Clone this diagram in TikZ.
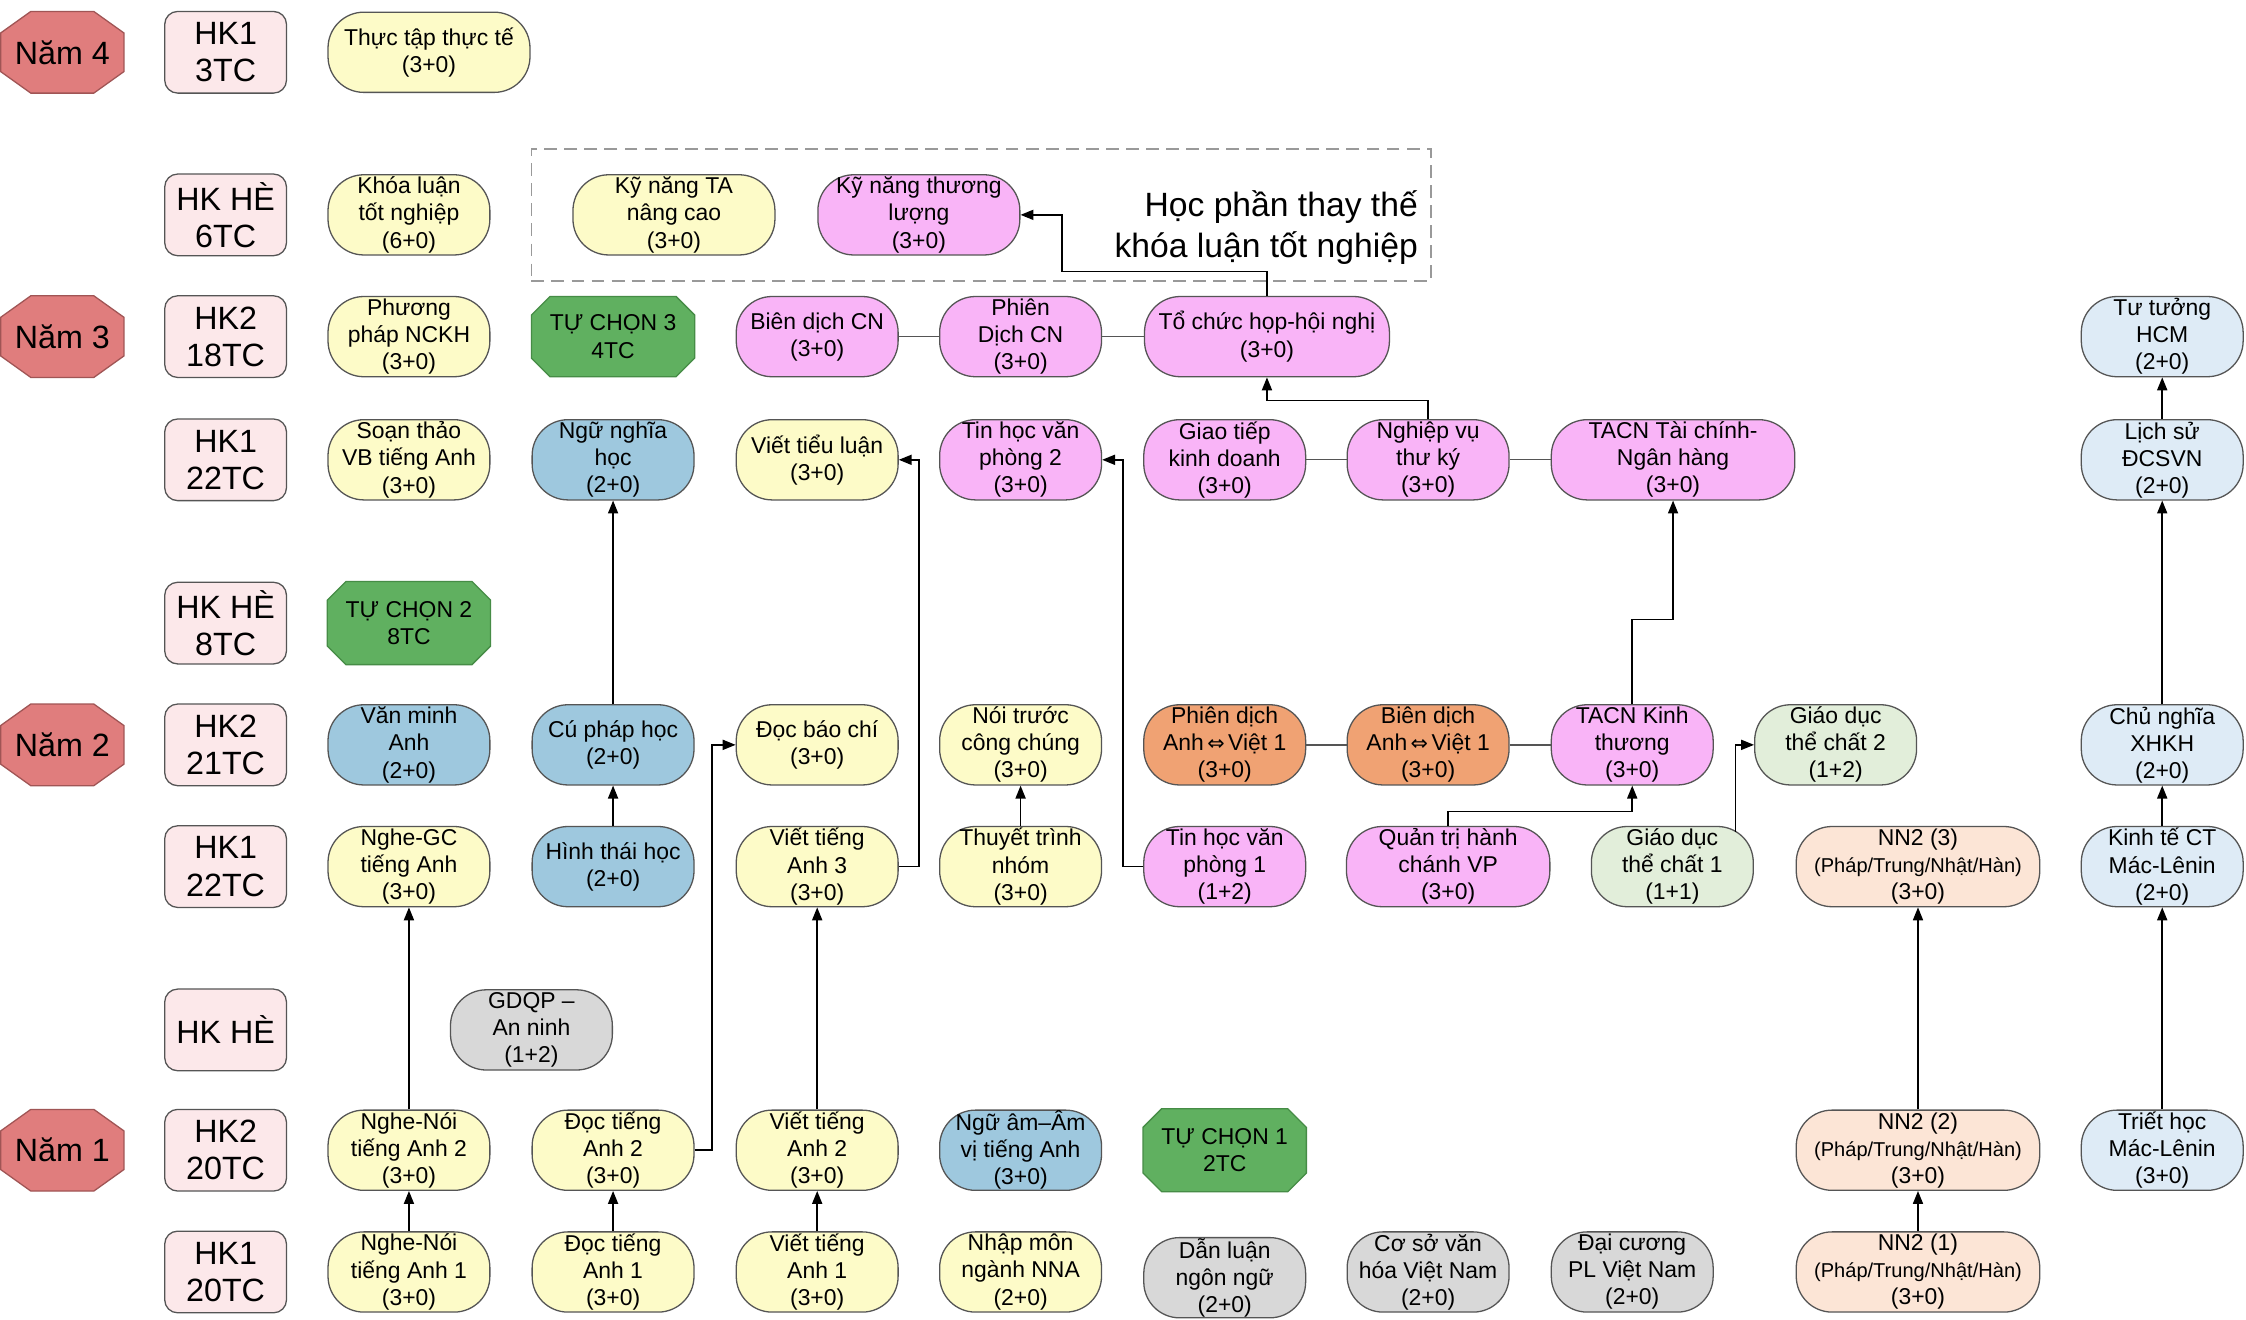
\documentclass[tikz,border=0pt]{standalone}
\usepackage{fontspec}
\setmainfont{Liberation Sans}
\newfontfamily\symf{DejaVu Sans}
\usetikzlibrary{arrows.meta,calc}
\newcommand\cf{\fontsize{16}{18.9}\selectfont}
\newcommand\hkf{\fontsize{22.5}{26}\selectfont}
\newcommand\titlef{\fontsize{23.5}{29}\selectfont}
\newcommand\smf{\fontsize{14}{17}\selectfont}
\newcommand\dar{{\symf\fontsize{14.5}{16}\selectfont\,⇔\,}}
\definecolor{cyel}{RGB}{253,251,200}
\definecolor{cblue}{RGB}{158,200,222}
\definecolor{cpink}{RGB}{249,180,247}
\definecolor{corange}{RGB}{240,162,115}
\definecolor{cgreen}{RGB}{96,176,96}
\definecolor{cgreenb}{RGB}{70,140,70}
\definecolor{cgray}{RGB}{216,216,216}
\definecolor{clgreen}{RGB}{226,238,218}
\definecolor{cpeach}{RGB}{252,229,214}
\definecolor{clblue}{RGB}{222,235,246}
\definecolor{cred}{RGB}{224,125,125}
\definecolor{credb}{RGB}{160,85,85}
\definecolor{chk}{RGB}{252,232,234}
\definecolor{cline}{RGB}{85,85,85}
\newcommand\octnode[9]{%
  \filldraw[#8] ({#2-#4},{#3-#5+#7}) -- ({#2-#4+#6},{#3-#5}) -- ({#2+#4-#6},{#3-#5}) -- ({#2+#4},{#3-#5+#7}) -- ({#2+#4},{#3+#5-#7}) -- ({#2+#4-#6},{#3+#5}) -- ({#2-#4+#6},{#3+#5}) -- ({#2-#4},{#3+#5-#7}) -- cycle;
  \node[octtext, #8text, minimum width={2*#4*1pt}, minimum height={2*#5*1pt}] (#1) at (#2,#3) {#9};
}
\tikzset{
  base/.style={draw=cline, line width=0.9pt, align=center, inner sep=0pt, font=\cf},
  course/.style={base, rounded corners=25pt, minimum width=113pt, minimum height=56pt},
  yel/.style={course, fill=cyel},
  blu/.style={course, fill=cblue},
  pnk/.style={course, fill=cpink},
  org/.style={course, fill=corange},
  gry/.style={course, fill=cgray},
  lgr/.style={course, fill=clgreen},
  pch/.style={course, fill=cpeach},
  lbl/.style={course, fill=clblue},
  hkbox/.style={base, fill=chk, rounded corners=9pt, minimum width=85pt, minimum height=57pt, font=\hkf},
  octtext/.style={align=center, inner sep=0pt},
  yearoct/.style={fill=cred, draw=credb, line width=0.9pt},
  yearocttext/.style={font=\hkf},
  greenoct/.style={fill=cgreen, draw=cgreenb, line width=0.9pt},
  greenocttext/.style={font=\cf},
  arr/.style={-{Triangle[length=9pt,width=7pt]}, line width=1.1pt, black},
  plain/.style={line width=0.9pt, cline},
}
\begin{document}
\begin{tikzpicture}[x=1pt,y=-1pt]
\useasboundingbox (0,0) rectangle (1568,921);
\fill[white] (0,0) rectangle (1568,921);
% group box
\node[draw=gray!80, dashed, dash pattern=on 9pt off 5pt, line width=1.2pt, minimum width=628pt, minimum height=92pt, inner sep=0pt] (grp) at (685,150) {};
\node[anchor=east, align=right, font=\titlef, inner sep=0pt] (grptitle) at (990,159) {Học phần thay thế\\khóa luận tốt nghiệp};
% years
\octnode{n4}{43.5}{36.5}{43}{28.5}{21}{15}{yearoct}{Năm 4}
\octnode{n3}{43.5}{235}{43}{28.5}{21}{15}{yearoct}{Năm 3}
\octnode{n2}{43.5}{520}{43}{28.5}{21}{15}{yearoct}{Năm 2}
\octnode{n1}{43.5}{803}{43}{28.5}{21}{15}{yearoct}{Năm 1}
% semesters
\node[hkbox] (s10) at (157.5,36.5) {HK1\\3TC};
\node[hkbox] (s9) at (157.5,150) {HK HÈ\\6TC};
\node[hkbox] (s8) at (157.5,235) {HK2\\18TC};
\node[hkbox] (s7) at (157.5,321) {HK1\\22TC};
\node[hkbox] (s6) at (157.5,435) {HK HÈ\\8TC};
\node[hkbox] (s5) at (157.5,520) {HK2\\21TC};
\node[hkbox] (s4) at (157.5,605) {HK1\\22TC};
\node[hkbox] (s3) at (157.5,719) {HK HÈ};
\node[hkbox] (s2) at (157.5,803) {HK2\\20TC};
\node[hkbox] (s1) at (157.5,888) {HK1\\20TC};
% column 3
\node[yel, minimum width=141pt] (tt) at (299.5,36.5) {Thực tập thực tế\\(3+0)};
\node[yel] (kl) at (285.5,150) {Khóa luận\\tốt nghiệp\\(6+0)};
\node[yel] (pp) at (285.5,235) {Phương\\pháp NCKH\\(3+0)};
\node[yel] (st) at (285.5,321) {Soạn thảo\\VB tiếng Anh\\(3+0)};
\octnode{tc2}{285.5}{435}{57}{29}{13}{13}{greenoct}{TỰ CHỌN 2\\8TC}
\node[blu] (vm) at (285.5,520) {Văn minh\\Anh\\(2+0)};
\node[yel] (ngc) at (285.5,605) {Nghe-GC\\tiếng Anh\\(3+0)};
\node[yel] (nn2) at (285.5,803) {Nghe-Nói\\tiếng Anh 2\\(3+0)};
\node[yel] (nn1) at (285.5,888) {Nghe-Nói\\tiếng Anh 1\\(3+0)};
% column 4
\node[yel, minimum width=141pt] (kta) at (470.5,150) {Kỹ năng TA\\nâng cao\\(3+0)};
\octnode{tc3}{428}{235}{57}{28}{13}{13}{greenoct}{TỰ CHỌN 3\\4TC}
\node[blu] (nng) at (428,321) {Ngữ nghĩa\\học\\(2+0)};
\node[blu] (cph) at (428,520) {Cú pháp học\\(2+0)};
\node[blu] (htt) at (428,605) {Hình thái học\\(2+0)};
\node[gry] (gdqp) at (371,719) {GDQP –\\An ninh\\(1+2)};
\node[yel] (d2) at (428,803) {Đọc tiếng\\Anh 2\\(3+0)};
\node[yel] (d1) at (428,888) {Đọc tiếng\\Anh 1\\(3+0)};
% column 5
\node[pnk, minimum width=141pt] (kntl) at (641.5,150) {Kỹ năng thương\\lượng\\(3+0)};
\node[pnk] (bdcn) at (570.5,235) {Biên dịch CN\\(3+0)};
\node[yel] (vtl) at (570.5,321) {Viết tiểu luận\\(3+0)};
\node[yel] (dbc) at (570.5,520) {Đọc báo chí\\(3+0)};
\node[yel] (v3) at (570.5,605) {Viết tiếng\\Anh 3\\(3+0)};
\node[yel] (v2) at (570.5,803) {Viết tiếng\\Anh 2\\(3+0)};
\node[yel] (v1) at (570.5,888) {Viết tiếng\\Anh 1\\(3+0)};
% column 6
\node[pnk] (pdcn) at (712.5,235) {Phiên\\Dịch CN\\(3+0)};
\node[pnk] (th2) at (712.5,321) {Tin học văn\\phòng 2\\(3+0)};
\node[yel] (ntcc) at (712.5,520) {Nói trước\\công chúng\\(3+0)};
\node[yel] (ttn) at (712.5,605) {Thuyết trình\\nhóm\\(3+0)};
\node[blu] (nam) at (712.5,803) {Ngữ âm–Âm\\vị tiếng Anh\\(3+0)};
\node[yel] (nmn) at (712.5,888) {Nhập môn\\ngành NNA\\(2+0)};
% column 7
\node[pnk, minimum width=171pt] (toch) at (884.5,235) {Tổ chức họp-hội nghị\\(3+0)};
\node[pnk] (gtkd) at (855,321) {Giao tiếp\\kinh doanh\\(3+0)};
\node[org] (pdav) at (855,520) {Phiên dịch\\Anh\dar Việt 1\\(3+0)};
\node[pnk] (th1) at (855,605) {Tin học văn\\phòng 1\\(1+2)};
\octnode{tc1}{855}{803}{57}{29}{13}{13}{greenoct}{TỰ CHỌN 1\\2TC}
\node[gry] (dl) at (855,892) {Dẫn luận\\ngôn ngữ\\(2+0)};
% column 8
\node[pnk] (nvtk) at (997,321) {Nghiệp vụ\\thư ký\\(3+0)};
\node[org] (bdav) at (997,520) {Biên dịch\\Anh\dar Việt 1\\(3+0)};
\node[pnk, minimum width=142pt] (qthc) at (1011,605) {Quản trị hành\\chánh VP\\(3+0)};
\node[gry] (csvh) at (997,888) {Cơ sở văn\\hóa Việt Nam\\(2+0)};
% column 9
\node[pnk, minimum width=170pt] (tactc) at (1168,321) {TACN Tài chính-\\Ngân hàng\\(3+0)};
\node[pnk] (tackt) at (1139.5,520) {TACN Kinh\\thương\\(3+0)};
\node[lgr] (gd1) at (1167.5,605) {Giáo dục\\thể chất 1\\(1+1)};
\node[gry] (dcpl) at (1139.5,888) {Đại cương\\PL Việt Nam\\(2+0)};
% column 10
\node[lgr] (gd2) at (1281.5,520) {Giáo dục\\thể chất 2\\(1+2)};
\node[pch, minimum width=170pt] (nn23) at (1339,605) {NN2 (3)\\{\smf (Pháp/Trung/Nhật/Hàn)}\\(3+0)};
\node[pch, minimum width=170pt] (nn22) at (1339,803) {NN2 (2)\\{\smf (Pháp/Trung/Nhật/Hàn)}\\(3+0)};
\node[pch, minimum width=170pt] (nn21) at (1339,888) {NN2 (1)\\{\smf (Pháp/Trung/Nhật/Hàn)}\\(3+0)};
% column 11
\node[lbl] (hcm) at (1509.5,235) {Tư tưởng\\HCM\\(2+0)};
\node[lbl] (ls) at (1509.5,321) {Lịch sử\\ĐCSVN\\(2+0)};
\node[lbl] (cnxh) at (1509.5,520) {Chủ nghĩa\\XHKH\\(2+0)};
\node[lbl] (ktct) at (1509.5,605) {Kinh tế CT\\Mác-Lênin\\(2+0)};
\node[lbl] (thml) at (1509.5,803) {Triết học\\Mác-Lênin\\(3+0)};
% plain links
\draw[plain] (bdcn.east) -- (pdcn.west);
\draw[plain] (pdcn.east) -- (toch.west);
\draw[plain] (gtkd.east) -- (nvtk.west);
\draw[plain] (nvtk.east) -- (tactc.west);
\draw[plain] (pdav.east) -- (bdav.west);
\draw[plain] (bdav.east) -- (tackt.west);
% arrows
\draw[arr] (nn1.north) -- (nn2.south);
\draw[arr] (nn2.north) -- (ngc.south);
\draw[arr] (d1.north) -- (d2.south);
\draw[arr] (d2.east) -- ++(12,0) |- (dbc.west);
\draw[arr] (htt.north) -- (cph.south);
\draw[arr] (cph.north) -- (nng.south);
\draw[arr] (v1.north) -- (v2.south);
\draw[arr] (v2.north) -- (v3.south);
\draw[arr] (v3.east) -- ++(14,0) |- (vtl.east);
\draw[arr] (ttn.north) -- (ntcc.south);
\draw[arr] (th1.west) -- ++(-14,0) |- (th2.east);
\draw[arr] (nvtk.north) -- ++(0,-13) -| (toch.south);
\draw[arr] (toch.north) -- ++(0,-17) -| ([xshift=29pt]kntl.east) -- (kntl.east);
\draw[arr] (tackt.north) -- ++(0,-59) -| (tactc.south);
\draw[arr] (qthc.north) -- ++(0,-10) -| (tackt.south);
\draw[arr] ([xshift=-13pt,yshift=-4pt]gd1.north east) |- (gd2.west);
\draw[arr] (nn21.north) -- (nn22.south);
\draw[arr] (nn22.north) -- (nn23.south);
\draw[arr] (thml.north) -- (ktct.south);
\draw[arr] (ktct.north) -- (cnxh.south);
\draw[arr] (cnxh.north) -- (ls.south);
\draw[arr] (ls.north) -- (hcm.south);
\end{tikzpicture}
\end{document}
